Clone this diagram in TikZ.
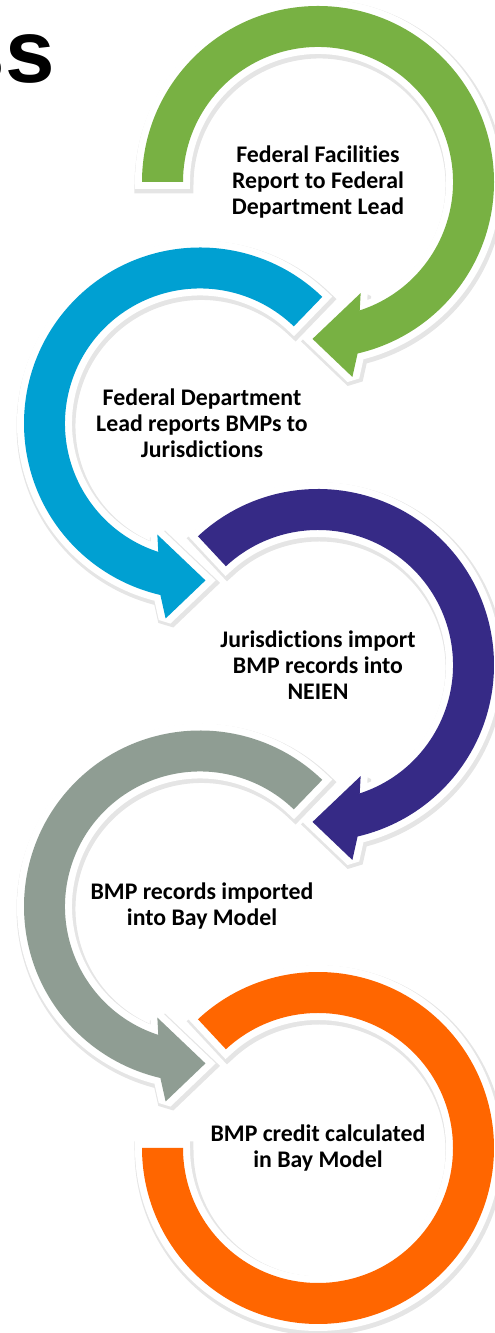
\documentclass[tikz,border=0pt]{standalone}
\usepackage{fontspec}
\setmainfont{Carlito}[Ligatures=CommonOff]
\newfontfamily\titlefont{Liberation Sans}
\definecolor{cgreen}{RGB}{120,177,67}
\definecolor{cblue}{RGB}{0,160,210}
\definecolor{cpurple}{RGB}{54,42,134}
\definecolor{cgray}{RGB}{143,157,147}
\definecolor{corange}{RGB}{255,102,0}
\newcommand\cwpath[1]{(#1:176) arc[start angle=#1, end angle=-77, radius=176] -- (-80:198) -- (-92:157) -- (-69:119) -- (-72:135) arc[start angle=-72, end angle=#1, radius=135] -- cycle}
\newcommand\ccwpath[1]{(#1:176) arc[start angle=#1, end angle=257, radius=176] -- (260:198) -- (272:157) -- (249:119) -- (252:135) arc[start angle=252, end angle=#1, radius=135] -- cycle}
\newcommand\ringpath{(133:176) arc[start angle=133, end angle=-180, radius=176] -- (180:135) arc[start angle=180, end angle=493, radius=135] -- cycle}
\begin{document}
\begin{tikzpicture}[x=1pt,y=1pt,
  shadowline/.style={draw=black, draw opacity=0.10, line width=18pt, line join=miter, miter limit=2},
  borderline/.style={draw=white, line width=14pt, line join=miter, miter limit=2},
  lbl/.style={font=\bfseries\fontsize{23.8}{26}\selectfont, align=center, text=black, inner sep=0pt}]
\useasboundingbox (0,0) rectangle (495,1333);
\clip (0,0) rectangle (495,1333);
\fill[white] (0,0) rectangle (495,1333);
% shadows
\begin{scope}[shift={(319.5,1148.5)}] \path[shadowline] \cwpath{180}; \end{scope}
\begin{scope}[shift={(201.5,907)}] \path[shadowline] \ccwpath{46}; \end{scope}
\begin{scope}[shift={(319.5,665.5)}] \path[shadowline] \cwpath{133}; \end{scope}
\begin{scope}[shift={(201.5,424)}] \path[shadowline] \ccwpath{46}; \end{scope}
\begin{scope}[shift={(319.5,182.5)}] \path[shadowline] \ringpath; \end{scope}
% green
\begin{scope}[shift={(318,1151)}]
  \path[borderline] \cwpath{180};
  \fill[cgreen] \cwpath{180};
\end{scope}
% blue
\begin{scope}[shift={(200,909.5)}]
  \path[borderline] \ccwpath{46};
  \fill[cblue] \ccwpath{46};
\end{scope}
% purple
\begin{scope}[shift={(318,668)}]
  \path[borderline] \cwpath{133};
  \fill[cpurple] \cwpath{133};
\end{scope}
% gray
\begin{scope}[shift={(200,426.5)}]
  \path[borderline] \ccwpath{46};
  \fill[cgray] \ccwpath{46};
\end{scope}
% orange
\begin{scope}[shift={(318,185)}]
  \path[borderline] \ringpath;
  \fill[corange] \ringpath;
\end{scope}
% title fragment
\node[anchor=base east, inner sep=0pt, font=\titlefont\bfseries\fontsize{89}{89}\selectfont] (title) at (55,1250) {ss};
% labels
\node[lbl] (t1) at (318,1151) {Federal Facilities\\Report to Federal\\Department Lead};
\node[lbl] (t2) at (202,909.5) {Federal Department\\Lead reports BMPs to\\Jurisdictions};
\node[lbl] (t3) at (318,668) {Jurisdictions import\\BMP records into\\NEIEN};
\node[lbl] (t4) at (202,426.5) {BMP records imported\\into Bay Model};
\node[lbl] (t5) at (318,185) {BMP credit calculated\\in Bay Model};
\end{tikzpicture}
\end{document}
